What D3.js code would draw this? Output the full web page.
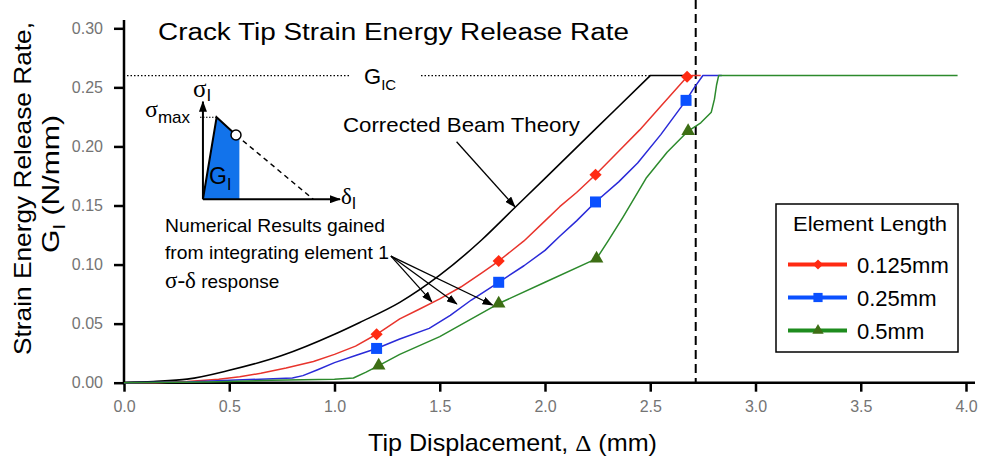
<!DOCTYPE html>
<html>
<head>
<meta charset="utf-8">
<style>
body { margin: 0; background: #fff; }
svg { font-family: "Liberation Sans", Arial, sans-serif; }
.tick-label { font-size: 16px; fill: #747474; }
.greek { font-family: "Liberation Serif", "DejaVu Serif", serif; }
</style>
</head>
<body>
<svg width="985" height="462"></svg>
<script src="https://cdn.jsdelivr.net/npm/d3@7"></script>
<script>

// ---- data (x = tip displacement mm, y = G in N/mm) ----
var xTicks = [0, 0.5, 1.0, 1.5, 2.0, 2.5, 3.0, 3.5, 4.0];
var yTicks = [0, 0.05, 0.10, 0.15, 0.20, 0.25, 0.30];
var gic = 0.26;
var critDisp = 2.716;

// corrected beam theory: smooth rise, then flat at GIC
var beamTheory = [[0,0],[0.14,0.001],[0.3,0.003],[0.5,0.0105],[0.75,0.023],[1.0,0.041],
  [1.12,0.051],[1.31,0.068],[1.5,0.091],[1.7,0.121],[1.85,0.147],[2.0,0.173],
  [2.25,0.2165],[2.5,0.26]];
var beamFlatEnd = 2.68;

var el125 = [[0,0],[0.15,0],[0.3,0.001],[0.45,0.003],[0.55,0.005],[0.65,0.008],[0.77,0.0125],
  [0.9,0.018],[1.0,0.024],[1.1,0.031],[1.2,0.041],[1.31,0.054],[1.4,0.062],[1.5,0.071],
  [1.6,0.081],[1.7,0.093],[1.78,0.103],[1.9,0.12],[2.0,0.137],[2.07,0.149],[2.15,0.161],
  [2.24,0.176],[2.35,0.196],[2.45,0.214],[2.55,0.234],[2.675,0.259],[2.7,0.26],[2.74,0.26]];
var el125Marks = [[1.2,0.041],[1.78,0.103],[2.24,0.176],[2.675,0.259]];

var el25 = [[0,0],[0.3,0.0005],[0.5,0.002],[0.8,0.004],[0.85,0.006],[0.92,0.011],[1.0,0.017],
  [1.1,0.023],[1.2,0.029],[1.31,0.037],[1.45,0.046],[1.55,0.057],[1.65,0.07],[1.78,0.085],
  [1.9,0.099],[2.0,0.112],[2.07,0.124],[2.15,0.137],[2.24,0.153],[2.35,0.17],[2.44,0.186],
  [2.55,0.21],[2.67,0.239],[2.71,0.25],[2.75,0.26],[2.84,0.26]];
var el25Marks = [[1.2,0.029],[1.78,0.085],[2.24,0.153],[2.67,0.239]];

var el5 = [[0,0],[0.4,0.0005],[0.7,0.002],[1.0,0.003],[1.09,0.004],[1.15,0.009],[1.21,0.0145],
  [1.31,0.024],[1.5,0.039],[1.78,0.067],[2.0,0.085],[2.245,0.105],[2.3,0.12],[2.37,0.14],
  [2.48,0.173],[2.58,0.195],[2.68,0.213],[2.74,0.22],[2.79,0.229],[2.805,0.24],[2.815,0.252],
  [2.825,0.26],[3.96,0.26]];
var el5Marks = [[1.21,0.0145],[1.78,0.067],[2.245,0.105],[2.68,0.213]];

var legendLabels = ["0.125mm", "0.25mm", "0.5mm"];

// little sigma-delta sketch, in the same data units
var insetOrigin = [0.375, 0.1553];
var insetPeak = [0.44, 0.2247];
var insetPoint = [0.532, 0.2097];
var insetEdge = [0.548, 0.2076];
var insetEnd = [0.899, 0.1553];
var insetXTip = 1.026, insetYTip = 0.2379;

// annotation arrows (data units)
var beamArrow = [[1.58, 0.204], [1.857, 0.149]];
var numArrowFrom = [1.268, 0.1072];
var numArrowTo = [[1.462, 0.0686], [1.581, 0.0666], [1.751, 0.0658]];

// ---------------------------------------------------------------
var svg = d3.select("svg");

var x = d3.scaleLinear().domain([0, 4]).range([124, 966]);
var y = d3.scaleLinear().domain([0, 0.30]).range([382.7, 28.3]);

svg.append("defs").append("marker")
    .attr("id", "arr")
    .attr("markerUnits", "userSpaceOnUse")
    .attr("markerWidth", 11).attr("markerHeight", 8)
    .attr("refX", 10).attr("refY", 4)
    .attr("orient", "auto")
  .append("path")
    .attr("d", "M0,0L11,4L0,8Z")
    .attr("fill", "#000");

// GIC dotted line, split round the label
svg.append("line")
    .attr("x1", x(0) + 3).attr("x2", 351)
    .attr("y1", y(gic)).attr("y2", y(gic))
    .attr("stroke", "#000").attr("stroke-width", 1.2).attr("stroke-dasharray", "1.5,2");
svg.append("line")
    .attr("x1", 421).attr("x2", x(2.5))
    .attr("y1", y(gic)).attr("y2", y(gic))
    .attr("stroke", "#000").attr("stroke-width", 1.2).attr("stroke-dasharray", "1.5,2");

var gicText = svg.append("text").attr("x", 364).attr("y", 84).attr("font-size", 22);
gicText.append("tspan").text("G");
gicText.append("tspan").attr("font-size", 15).attr("dy", 6).text("IC");

// critical displacement dashed line
svg.append("line")
    .attr("x1", x(critDisp)).attr("x2", x(critDisp))
    .attr("y1", 0).attr("y2", y(0))
    .attr("stroke", "#000").attr("stroke-width", 2).attr("stroke-dasharray", "9,5");

// axes
var yAxis = svg.append("g").attr("transform", "translate(" + x(0) + ",0)")
    .call(d3.axisLeft(y).tickValues(yTicks).tickSize(10).tickSizeOuter(0).tickPadding(11)
      .tickFormat(d3.format(".2f")));
var xAxis = svg.append("g").attr("transform", "translate(0," + y(0) + ")")
    .call(d3.axisBottom(x).tickValues(xTicks).tickSize(9).tickSizeOuter(0).tickPadding(9)
      .tickFormat(d3.format(".1f")));
[yAxis, xAxis].forEach(function(a) {
  a.select(".domain").remove();
  a.selectAll(".tick line").attr("stroke", "#000").attr("stroke-width", 2.5);
  a.selectAll(".tick text").attr("class", "tick-label").attr("font-family", null).attr("font-size", null);
});
xAxis.selectAll(".tick text").attr("dy", "0.71em");
svg.append("line").attr("x1", x(0)).attr("x2", x(0)).attr("y1", 20).attr("y2", y(0) + 1.5)
    .attr("stroke", "#000").attr("stroke-width", 2.5);
svg.append("line").attr("x1", x(0) - 1).attr("x2", 975).attr("y1", y(0)).attr("y2", y(0))
    .attr("stroke", "#000").attr("stroke-width", 2.5);

// curves
var line = d3.line().x(function(d) { return x(d[0]); }).y(function(d) { return y(d[1]); });
var smooth = d3.line().curve(d3.curveMonotoneX)
    .x(function(d) { return x(d[0]); }).y(function(d) { return y(d[1]); });

var series = [
  {data: el125, color: "#e8342c", width: 1.5, marks: el125Marks, mcolor: "#ff2a12", sym: "diamond"},
  {data: el25, color: "#2a2ad8", width: 1.5, marks: el25Marks, mcolor: "#0a50ff", sym: "square"},
  {data: el5, color: "#2c8a2c", width: 1.5, marks: el5Marks, mcolor: "#3d6e14", sym: "triangle"}
];

function symbolPath(sym, scale) {
  if (sym === "diamond") return d3.symbol(d3.symbolSquare, 74 * scale)();
  if (sym === "square") return d3.symbol(d3.symbolSquare, 121 * scale)();
  return d3.symbol(d3.symbolTriangle, 80 * scale)();
}

svg.append("path").datum(beamTheory)
    .attr("d", function(d) { return smooth(d) + "L" + x(beamFlatEnd) + "," + y(gic); })
    .attr("fill", "none").attr("stroke", "#000").attr("stroke-width", 1.6);

series.forEach(function(s) {
  svg.append("path").datum(s.data)
      .attr("d", line)
      .attr("fill", "none")
      .attr("stroke", s.color)
      .attr("stroke-width", s.width)
      .attr("stroke-linejoin", "round");
});
series.forEach(function(s) {
  svg.selectAll(null).data(s.marks).enter().append("path")
      .attr("d", symbolPath(s.sym, 1))
      .attr("fill", s.mcolor)
      .attr("transform", function(d) {
        return "translate(" + x(d[0]) + "," + y(d[1]) + ")" + (s.sym === "diamond" ? " rotate(45)" : "");
      });
});

// title
svg.append("text").attr("x", 158).attr("y", 40).attr("font-size", 23)
    .attr("textLength", 471).attr("lengthAdjust", "spacingAndGlyphs")
    .text("Crack Tip Strain Energy Release Rate");

// axis titles
svg.append("text").attr("transform", "translate(31,355) rotate(-90)").attr("font-size", 24)
    .attr("textLength", 333).attr("lengthAdjust", "spacingAndGlyphs")
    .text("Strain Energy Release Rate,");
var yl2 = svg.append("text").attr("transform", "translate(59,253) rotate(-90)").attr("font-size", 24)
    .attr("textLength", 138).attr("lengthAdjust", "spacingAndGlyphs");
yl2.append("tspan").text("G");
yl2.append("tspan").attr("font-size", 16).attr("dy", 6).text("I");
yl2.append("tspan").attr("dy", -6).text(" (N/mm)");

var xl = svg.append("text").attr("x", 368).attr("y", 451).attr("font-size", 24)
    .attr("textLength", 289).attr("lengthAdjust", "spacingAndGlyphs");
xl.append("tspan").text("Tip Displacement, ");
xl.append("tspan").attr("class", "greek").text("Δ");
xl.append("tspan").text(" (mm)");

// annotations
svg.append("text").attr("x", 343).attr("y", 132).attr("font-size", 21)
    .attr("textLength", 237).attr("lengthAdjust", "spacingAndGlyphs")
    .text("Corrected Beam Theory");
svg.append("line")
    .attr("x1", x(beamArrow[0][0])).attr("y1", y(beamArrow[0][1]))
    .attr("x2", x(beamArrow[1][0])).attr("y2", y(beamArrow[1][1]))
    .attr("stroke", "#000").attr("stroke-width", 1.3).attr("marker-end", "url(#arr)");

svg.append("text").attr("x", 165).attr("y", 232).attr("font-size", 19)
    .attr("textLength", 220).attr("lengthAdjust", "spacingAndGlyphs")
    .text("Numerical Results gained");
svg.append("text").attr("x", 165).attr("y", 259).attr("font-size", 19)
    .attr("textLength", 224).attr("lengthAdjust", "spacingAndGlyphs")
    .text("from integrating element 1");
var l3 = svg.append("text").attr("x", 165).attr("y", 288).attr("font-size", 19);
l3.append("tspan").attr("class", "greek").attr("font-size", 23).text("σ-δ");
l3.append("tspan").text(" response");

numArrowTo.forEach(function(t) {
  svg.append("line")
      .attr("x1", x(numArrowFrom[0])).attr("y1", y(numArrowFrom[1]))
      .attr("x2", x(t[0])).attr("y2", y(t[1]))
      .attr("stroke", "#000").attr("stroke-width", 1.3).attr("marker-end", "url(#arr)");
});

// inset sketch
var inset = svg.append("g");
inset.append("path")
    .datum([insetOrigin, insetPeak, insetEdge, [insetEdge[0], insetOrigin[1]]])
    .attr("d", function(d) { return line(d) + "Z"; })
    .attr("fill", "#1273eb");
inset.append("path").datum([insetOrigin, insetPeak, insetPoint]).attr("d", line)
    .attr("fill", "none").attr("stroke", "#000").attr("stroke-width", 2);
inset.append("path").datum([insetPoint, insetEnd]).attr("d", line)
    .attr("fill", "none").attr("stroke", "#000").attr("stroke-width", 1.5).attr("stroke-dasharray", "5,4");
inset.append("line")
    .attr("x1", 200).attr("x2", x(insetPeak[0]))
    .attr("y1", y(insetPeak[1])).attr("y2", y(insetPeak[1]))
    .attr("stroke", "#000").attr("stroke-width", 1.2).attr("stroke-dasharray", "1.5,1.5");
inset.append("line")
    .attr("x1", x(insetOrigin[0])).attr("y1", y(insetOrigin[1]))
    .attr("x2", x(insetXTip)).attr("y2", y(insetOrigin[1]))
    .attr("stroke", "#000").attr("stroke-width", 2).attr("marker-end", "url(#arr)");
inset.append("line")
    .attr("x1", x(insetOrigin[0])).attr("y1", y(insetOrigin[1]))
    .attr("x2", x(insetOrigin[0])).attr("y2", y(insetYTip))
    .attr("stroke", "#000").attr("stroke-width", 2).attr("marker-end", "url(#arr)");
inset.append("circle")
    .attr("cx", x(insetPoint[0])).attr("cy", y(insetPoint[1])).attr("r", 5)
    .attr("fill", "#fff").attr("stroke", "#000").attr("stroke-width", 1.5);

var sI = inset.append("text").attr("x", 193).attr("y", 97);
sI.append("tspan").attr("class", "greek").attr("font-size", 25).text("σ");
sI.append("tspan").attr("font-size", 17).attr("dy", 4).text("I");
var sMax = inset.append("text").attr("x", 145).attr("y", 117);
sMax.append("tspan").attr("class", "greek").attr("font-size", 24).text("σ");
sMax.append("tspan").attr("font-size", 17).attr("dy", 6).text("max");
var dI = inset.append("text").attr("x", 341).attr("y", 204);
dI.append("tspan").attr("class", "greek").attr("font-size", 23).text("δ");
dI.append("tspan").attr("font-size", 16).attr("dy", 5).text("I");
var gI = inset.append("text").attr("x", 209).attr("y", 184);
gI.append("tspan").attr("font-size", 23).text("G");
gI.append("tspan").attr("font-size", 16).attr("dy", 6).text("I");

// legend
var lg = svg.append("g");
lg.append("rect").attr("x", 776).attr("y", 204).attr("width", 182).attr("height", 148)
    .attr("fill", "#fff").attr("stroke", "#000").attr("stroke-width", 1.5);
lg.append("text").attr("x", 793).attr("y", 231).attr("font-size", 21)
    .attr("textLength", 154).attr("lengthAdjust", "spacingAndGlyphs")
    .text("Element Length");
var legendY = d3.scalePoint().domain(legendLabels).range([264.5, 330.5]);
legendLabels.forEach(function(lab, i) {
  var s = series[i], ly = legendY(lab);
  lg.append("line").attr("x1", 788).attr("x2", 847).attr("y1", ly).attr("y2", ly)
      .attr("stroke", s.sym === "triangle" ? "#1e8c1e" : s.mcolor).attr("stroke-width", 4);
  lg.append("path").attr("d", symbolPath(s.sym, 0.7))
      .attr("fill", s.mcolor)
      .attr("transform", "translate(818," + ly + ")" + (s.sym === "diamond" ? " rotate(45)" : ""));
  lg.append("text").attr("x", 857).attr("y", ly + 8).attr("font-size", 22).text(lab);
});

</script>
</body>
</html>
